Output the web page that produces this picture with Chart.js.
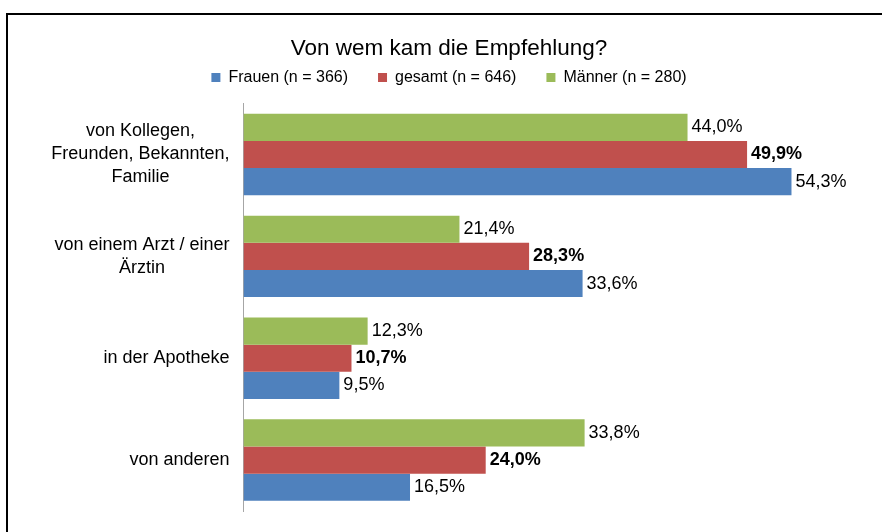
<!DOCTYPE html>
<html>
<head>
<meta charset="utf-8">
<title>Von wem kam die Empfehlung?</title>
<script src="https://cdn.jsdelivr.net/npm/chart.js@4.4.1/dist/chart.umd.min.js"></script>
<style>
  html, body { margin: 0; padding: 0; overflow: hidden; background: #fff; }
  #wrap { position: relative; width: 882px; height: 532px; overflow: hidden; }
  #frame { position: absolute; left: 6px; top: 13px; width: 1000px; height: 700px; border-left: 2px solid #000; border-top: 2px solid #000; box-sizing: border-box; }
  #chart { position: absolute; left: 0; top: 0; }
</style>
</head>
<body>
<div id="wrap">
  <div id="frame"></div>
  <canvas id="chart" width="882" height="532"></canvas>
</div>
<script>
const categories = [
    ['von Kollegen,', 'Freunden, Bekannten,', 'Familie'],
    ['von einem Arzt / einer', 'Ärztin'],
    ['in der Apotheke'],
    ['von anderen']
];
const seriesNames = ['Männer (n = 280)', 'gesamt (n = 646)', 'Frauen (n = 366)'];
const maenner = [44.0, 21.4, 12.3, 33.8];
const gesamt = [49.9, 28.3, 10.7, 24.0];
const frauen = [54.3, 33.6, 9.5, 16.5];
const seriesColors = ['#9BBB59', '#C0504D', '#4F81BD'];
const boldSeries = 1; // gesamt labels are bold

const FONT = '"Liberation Sans", Arial, sans-serif';

// category labels: each block right-aligned to the axis, lines centred inside the block
const categoryLabels = {
    id: 'categoryLabels',
    afterDraw(chart) {
        const ctx = chart.ctx;
        const yScale = chart.scales.y;
        ctx.save();
        ctx.font = '18px ' + FONT;
        ctx.fillStyle = '#000';
        ctx.textAlign = 'center';
        ctx.textBaseline = 'middle';
        chart.data.labels.forEach((lines, i) => {
            const w = Math.max(...lines.map(l => ctx.measureText(l).width));
            const cx = yScale.right - 14 - w / 2;
            const cy = yScale.getPixelForTick(i);
            lines.forEach((line, j) => {
                ctx.fillText(line, cx, cy + (j - (lines.length - 1) / 2) * 23);
            });
        });
        ctx.restore();
    }
};

const valueLabels = {
    id: 'valueLabels',
    afterDatasetsDraw(chart) {
        const ctx = chart.ctx;
        ctx.save();
        ctx.textBaseline = 'middle';
        ctx.textAlign = 'left';
        ctx.fillStyle = '#000';
        chart.data.datasets.forEach((ds, di) => {
            ctx.font = (di === boldSeries ? 'bold ' : '') + '18px ' + FONT;
            chart.getDatasetMeta(di).data.forEach((bar, i) => {
                const txt = ds.data[i].toFixed(1).replace('.', ',') + '%';
                ctx.fillText(txt, bar.x + 4, bar.y);
            });
        });
        ctx.restore();
    }
};

new Chart(document.getElementById('chart').getContext('2d'), {
    type: 'bar',
    data: {
        labels: categories,
        datasets: [maenner, gesamt, frauen].map((values, i) => ({
            label: seriesNames[i],
            data: values,
            backgroundColor: seriesColors[i],
            borderWidth: 0
        }))
    },
    options: {
        responsive: false,
        animation: false,
        indexAxis: 'y',
        layout: { padding: { top: 20, left: 49, right: 33, bottom: 21 } },
        datasets: { bar: { categoryPercentage: 0.8, barPercentage: 1.0 } },
        scales: {
            x: {
                position: 'top',
                min: 0,
                max: 60,
                grid: { display: false },
                border: { display: false },
                ticks: { display: false },
                afterFit: s => { s.height = 8; }
            },
            y: {
                grid: { display: false },
                border: { display: true, color: '#a6a6a6', width: 1 },
                ticks: { display: false },
                afterFit: s => { s.width = 194.5; }
            }
        },
        plugins: {
            title: {
                display: true,
                text: 'Von wem kam die Empfehlung?',
                color: '#000',
                font: { size: 22.5, weight: 'normal', family: FONT },
                padding: { top: 15, bottom: -22.4 }
            },
            legend: {
                reverse: true,
                labels: {
                    boxWidth: 9,
                    boxHeight: 9,
                    padding: 30,
                    color: '#000',
                    font: { size: 16, family: FONT }
                }
            },
            tooltip: { enabled: false }
        }
    },
    plugins: [categoryLabels, valueLabels]
});
</script>
</body>
</html>
